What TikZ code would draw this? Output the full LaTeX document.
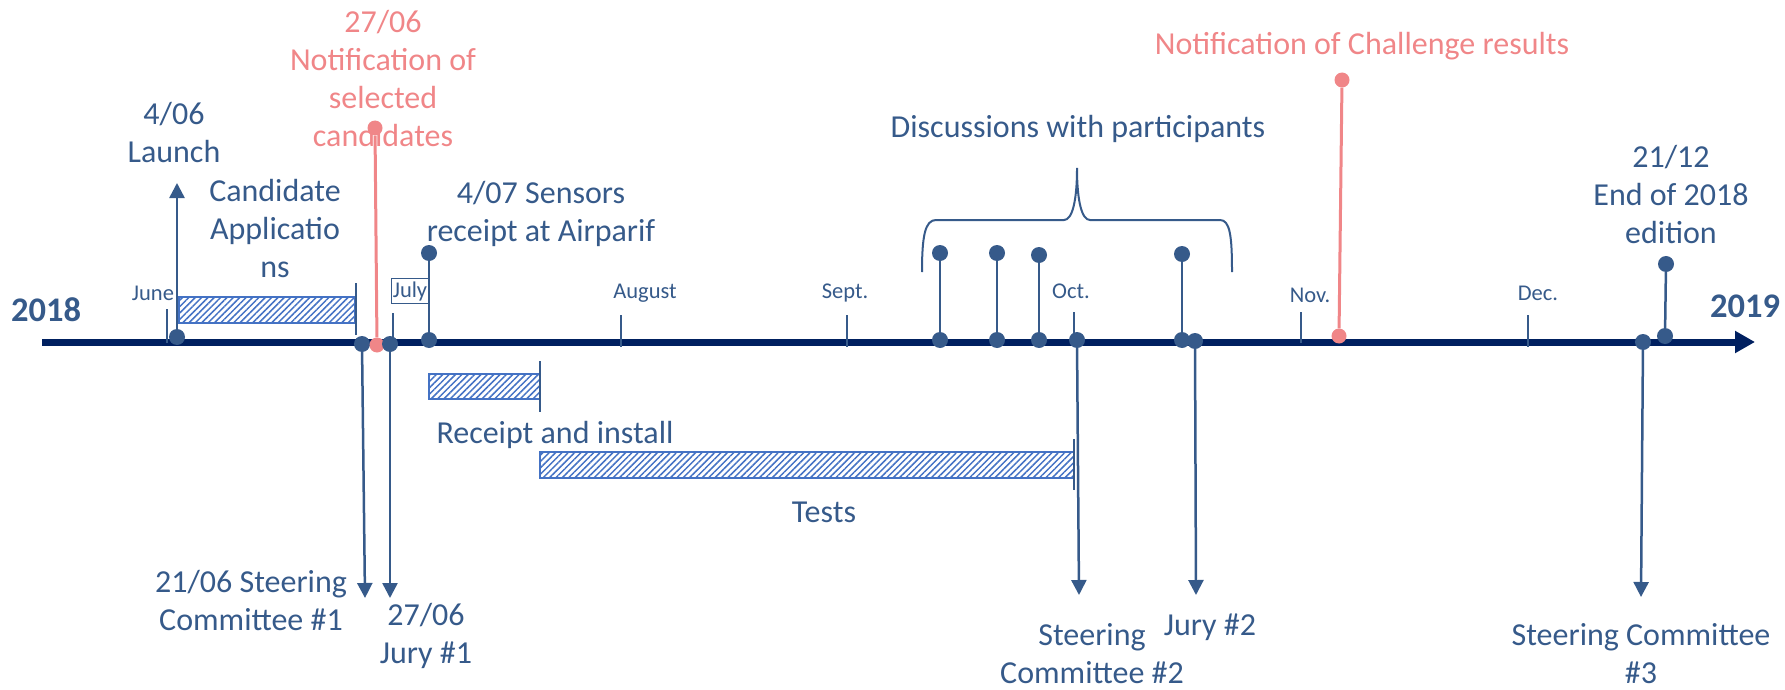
\documentclass[tikz,border=0pt]{standalone}
\usepackage{fontspec}
\setmainfont{Carlito}
\usetikzlibrary{arrows.meta,patterns.meta}
\definecolor{tblue}{RGB}{54,90,138}
\definecolor{navy}{RGB}{0,32,96}
\definecolor{pinkc}{RGB}{240,134,136}
\definecolor{hatchc}{RGB}{68,114,196}
\begin{document}
\begin{tikzpicture}[x=1pt,y=-1pt,
 lbl/.style={text=tblue, align=center, font=\fontsize{32}{38}\selectfont, inner sep=0pt},
 plbl/.style={lbl, text=pinkc},
 mon/.style={text=tblue, font=\fontsize{22.5}{26}\selectfont, inner sep=0pt},
 yr/.style={text=tblue, font=\fontsize{34.5}{40}\selectfont\bfseries, inner sep=0pt},
 evdot/.style={circle, fill=tblue, inner sep=0pt, minimum size=16pt},
 pdot/.style={circle, fill=pinkc, inner sep=0pt, minimum size=15pt},
 stem/.style={draw=tblue, line width=2.5pt},
 pstem/.style={draw=pinkc, line width=3pt},
 arr/.style={stem, -{Triangle[width=15pt,length=15pt]}},
 tickln/.style={draw=tblue, line width=1.6pt},
 bar/.style={draw=hatchc, line width=1.2pt, pattern={Lines[angle=45,distance=4.5pt,line width=1.5pt]}, pattern color=hatchc},
]
\useasboundingbox (0,0) rectangle (1785,690);

% axis
\coordinate (axL) at (42,342);
\coordinate (axR) at (1755,342);
\draw[navy, line width=7pt, -{Triangle[width=21pt,length=20pt]}] (axL) -- (axR);

% years
\node[yr] (y18) at (46,310) {2018};
\node[yr] (y19) at (1745,306) {2019};

% months
\foreach \nm/\lx/\ly/\tx/\ta/\tb [count=\i] in {June/153/293/167/309/343, August/645/293/621/315/347, Sept./845/293/847/315/347, Oct./1071/291/1074/312/343, Nov./1310/295/1301/312/343, Dec./1538/293/1528/315/347}{
  \node[mon] (mon\i) at (\lx,\ly) {\nm};
  \coordinate (tka\i) at (\tx,\ta);
  \coordinate (tkb\i) at (\tx,\tb);
  \draw[tickln] (tka\i) -- (tkb\i);
}
\node[mon, draw=tblue, line width=1.2pt, inner xsep=1.2pt, inner ysep=3pt] (mJul) at (410,291) {July};
\coordinate (tkJa) at (393,313);
\coordinate (tkJb) at (393,343);
\draw[tickln] (tkJa) -- (tkJb);

% hatched bars
\path[bar] (179,297) rectangle (355,323);
\path[bar] (429,374) rectangle (540,399);
\path[bar] (540,452) rectangle (1074,478);
\draw[tickln] (356,283) -- (356,335);
\draw[tickln] (540,361) -- (540,412);
\draw[tickln] (1074,439) -- (1074,490);

% brace
\draw[tblue, line width=2pt] (922,272) .. controls (922,236) and (925,220) .. (936,220) -- (1064,220) .. controls (1072,220) and (1077,202) .. (1077,168) .. controls (1077,202) and (1082,220) .. (1090,220) -- (1220,220) .. controls (1230,220) and (1232,236) .. (1232,272);

% labels
\node[lbl] (tLaunch) at (174,133) {4/06\\Launch};
\node[lbl] (tCand) at (275,229) {Candidate\\Applicatio\\ns};
\node[plbl] (tNotif) at (383,79) {27/06\\Notification of\\selected\\candidates};
\node[lbl] (tSens) at (541,214) {4/07 Sensors\\receipt at Airparif};
\node[lbl] (tDisc) at (1078,129) {Discussions with participants};
\node[plbl] (tRes) at (1362,46) {Notification of Challenge results};
\node[lbl] (tEnd) at (1671,195) {21/12\\End of 2018\\edition};
\node[lbl] (tSC1) at (251,601) {21/06 Steering\\Committee \#1};
\node[lbl] (tJ1) at (426,636) {27/06\\Jury \#1};
\node[lbl] (tRec) at (555,435) {Receipt and install};
\node[lbl] (tTests) at (824,512) {Tests};
\node[lbl] (tSC2) at (1092,654) {Steering\\Committee \#2};
\node[lbl] (tJ2) at (1210,627) {Jury \#2};
\node[lbl] (tSC3) at (1641,654) {Steering Committee\\\#3};

% events: dots
\node[evdot] (launch) at (177,337) {};
\coordinate (launchTip) at (177,183);
\node[evdot] (sc1) at (362,344) {};
\coordinate (sc1Tip) at (365,598);
\node[pdot] (notif) at (377,345) {};
\node[pdot] (notifTop) at (375,128) {};
\node[evdot] (jury1) at (390,344) {};
\coordinate (jury1Tip) at (390,598);
\node[evdot] (sens) at (429,340) {};
\node[evdot] (sensTop) at (429,253) {};
\node[evdot] (d1) at (940,340) {};
\node[evdot] (d1t) at (940,253) {};
\node[evdot] (d2) at (997,340) {};
\node[evdot] (d2t) at (997,253) {};
\node[evdot] (d3) at (1039,340) {};
\node[evdot] (d3t) at (1039,255) {};
\node[evdot] (d4) at (1182,340) {};
\node[evdot] (d4t) at (1182,254) {};
\node[evdot] (sc2) at (1077,340) {};
\coordinate (sc2Tip) at (1079,595);
\node[evdot] (jury2) at (1195,341) {};
\coordinate (jury2Tip) at (1196,595);
\node[pdot] (res) at (1339,336) {};
\node[pdot] (resTop) at (1342,80) {};
\node[evdot] (sc3) at (1643,342) {};
\coordinate (sc3Tip) at (1641,597);
\node[evdot] (fin) at (1665,336) {};
\node[evdot] (finTop) at (1666,264) {};

% connectors
\draw[arr] (launch) -- (launchTip);
\draw[arr] (sc1) -- (sc1Tip);
\draw[arr] (jury1) -- (jury1Tip);
\draw[pstem] (notif) -- (notifTop);
\draw[stem] (sens) -- (sensTop);
\draw[stem] (d1) -- (d1t);
\draw[stem] (d2) -- (d2t);
\draw[stem] (d3) -- (d3t);
\draw[stem] (d4) -- (d4t);
\draw[arr] (sc2) -- (sc2Tip);
\draw[arr] (jury2) -- (jury2Tip);
\draw[pstem] (res) -- (resTop);
\draw[arr] (sc3) -- (sc3Tip);
\draw[stem] (fin) -- (finTop);
\end{tikzpicture}
\end{document}
